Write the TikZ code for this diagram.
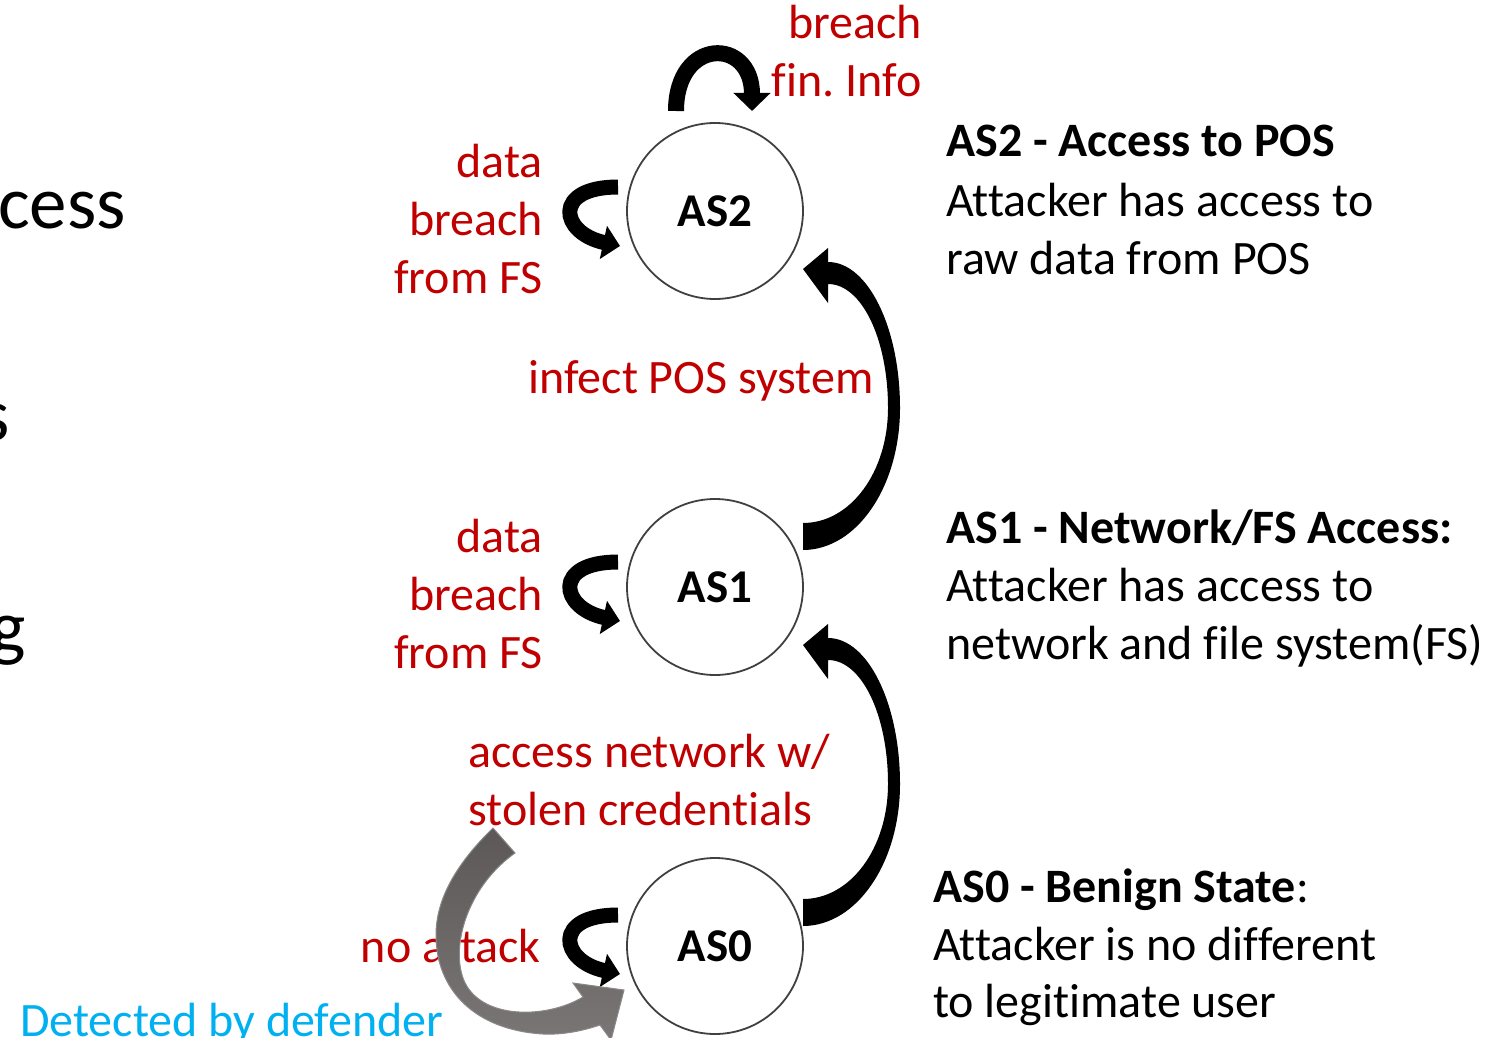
\documentclass[tikz,border=0pt]{standalone}
\usepackage{fontspec}
\setmainfont[Ligatures=NoCommon]{Carlito}
\usetikzlibrary{arrows.meta,calc}
\frenchspacing
\definecolor{pptred}{HTML}{C00000}
\definecolor{pptcyan}{HTML}{00B0F0}
\definecolor{ringgray}{HTML}{404040}
\definecolor{detdark}{HTML}{5C5858}
\definecolor{detlight}{HTML}{7A7676}
\definecolor{detedge}{HTML}{8A8888}
\tikzset{
  state/.style={circle, draw=ringgray, line width=1.8pt, minimum size=176pt, inner sep=0pt, font=\fontsize{47}{56}\selectfont\bfseries},
  lbl/.style={inner sep=0pt, text=pptred, font=\fontsize{48}{58}\selectfont\frenchspacing},
  desc/.style={inner sep=0pt, text=black, font=\fontsize{48}{58}\selectfont\frenchspacing},
  frag/.style={inner sep=0pt, text=black, font=\fontsize{75}{90}\selectfont},
  detlbl/.style={inner sep=0pt, text=pptcyan, font=\fontsize{48}{58}\selectfont},
  loopar/.style={line width=15pt, -{Triangle[length=17pt,width=33pt]}},
  toploop/.style={line width=16pt, -{Triangle[length=18pt,width=36pt]}},
  bigar/.style={fill=black},
  detar/.style={top color=detdark, bottom color=detlight, draw=detedge, line width=1pt}
}
\begin{document}
\begin{tikzpicture}[x=1pt,y=-1pt]
\useasboundingbox (0,0) rectangle (1509,1038);
\clip (0,0) rectangle (1509,1038);

% cut-off fragments on the left
\node[frag, anchor=base west] (fc) at (-2,228) {cess};
\node[frag, anchor=base east] (fs) at (10,440) {s};
\node[frag, anchor=base east] (fg) at (26,652) {g};

% states
\node[state] (as2) at (715,211) {AS2};
\node[state] (as1) at (715,587) {AS1};
\node[state] (as0) at (715,946) {AS0};

% descriptions
\node[desc, anchor=base west] (d2a) at (946,157) {\textbf{AS2 - Access to POS}};
\node[desc, anchor=base west] (d2b) at (946,216) {Attacker has access to};
\node[desc, anchor=base west] (d2c) at (946,274) {raw data from POS};
\node[desc, anchor=base west] (d1a) at (946,543) {\textbf{AS1 - Network/FS Access:}};
\node[desc, anchor=base west] (d1b) at (946,601) {Attacker has access to};
\node[desc, anchor=base west] (d1c) at (946,659) {network and file system(FS)};
\node[desc, anchor=base west] (d0a) at (933,902) {\textbf{AS0 - Benign State}:};
\node[desc, anchor=base west] (d0b) at (933,960) {Attacker is no different};
\node[desc, anchor=base west] (d0c) at (933,1017) {to legitimate user};

% red labels
\node[lbl, anchor=base east] (ta) at (922,39) {breach};
\node[lbl, anchor=base east] (tb) at (922,97) {fin. Info};
\node[lbl, anchor=base east] (l2a) at (543,177) {data};
\node[lbl, anchor=base east] (l2b) at (543,235) {breach};
\node[lbl, anchor=base east] (l2c) at (543,293) {from FS};
\node[lbl, anchor=base east] (l1a) at (543,552) {data};
\node[lbl, anchor=base east] (l1b) at (543,610) {breach};
\node[lbl, anchor=base east] (l1c) at (543,668) {from FS};
\node[lbl, anchor=base] (inf) at (701,393) {infect POS system};
\node[lbl, anchor=base west] (acc1) at (468,767) {access network w/};
\node[lbl, anchor=base west] (acc2) at (468,825) {stolen credentials};
\node[lbl, anchor=base east] (noat) at (541,962) {no attack};
\node[detlbl, anchor=base west] (det) at (20,1036) {Detected by defender};

% self loops
\draw[toploop] ([shift={(-39,-100)}]as2.center) .. controls ([shift={(-39,-174)}]as2.center) and ([shift={(37,-174)}]as2.center) .. ([shift={(37,-100)}]as2.center);
\draw[loopar] ([shift={(-97,-24)}]as2.center) .. controls ([shift={(-163,-24)}]as2.center) and ([shift={(-155,22)}]as2.center) .. ([shift={(-95,35)}]as2.center);
\draw[loopar] ([shift={(-97,-25)}]as1.center) .. controls ([shift={(-163,-25)}]as1.center) and ([shift={(-155,21)}]as1.center) .. ([shift={(-95,34)}]as1.center);
\draw[loopar] ([shift={(-97,-31)}]as0.center) .. controls ([shift={(-163,-31)}]as0.center) and ([shift={(-155,15)}]as0.center) .. ([shift={(-95,28)}]as0.center);

% transitions AS1 -> AS2 and AS0 -> AS1 (curved block arrows)
\begin{scope}[shift={(as2.center)}]
\fill[bigar] (88,339) .. controls (141.5,339) and (185,276) .. (185,197)
  .. controls (185,117) and (153,51) .. (113,51) -- (113,37) -- (88,58) -- (113,92) -- (113,73)
  .. controls (146.7,73) and (173,128) .. (173,197)
  .. controls (173,261) and (135.5,312) .. (88,312) -- cycle;
\end{scope}
\begin{scope}[shift={(as1.center)}]
\fill[bigar] (88,339) .. controls (141.5,339) and (185,276) .. (185,197)
  .. controls (185,117) and (153,51) .. (113,51) -- (113,37) -- (88,58) -- (113,92) -- (113,73)
  .. controls (146.7,73) and (173,128) .. (173,197)
  .. controls (173,261) and (135.5,312) .. (88,312) -- cycle;
\end{scope}

% detection arrow back into AS0
\path[detar] (493,828) .. controls (455,865) and (436,900) .. (436,935)
  .. controls (436,990) and (475,1030) .. (543,1034)
  .. controls (565,1035) and (585,1030) .. (600,1025)
  -- (611,1040) -- (624,990) -- (573,983) -- (583,997)
  .. controls (545,1020) and (475,1020) .. (462,975)
  .. controls (452,940) and (470,885) .. (515,853) -- cycle;
\end{tikzpicture}
\end{document}
